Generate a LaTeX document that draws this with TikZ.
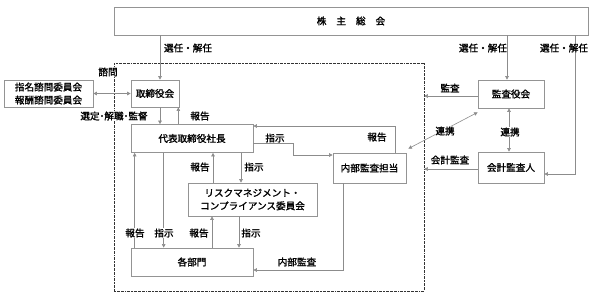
\documentclass[tikz,border=0pt]{standalone}
\usepackage{fontspec}
\setmainfont{Noto Sans CJK JP}[FakeBold=1.5]
\usetikzlibrary{arrows.meta,calc}
\begin{document}
\begin{tikzpicture}[x=1pt,y=-1pt,
  font=\fontsize{9.6}{11}\selectfont,
  box/.style={draw=black!42, line width=0.7pt, fill=white, inner sep=0pt, align=center},
  ln/.style={draw=black!45, line width=0.6pt},
  arr/.style={ln, -{Triangle[length=3.6pt,width=3.6pt]}, shorten >=0pt},
  darr/.style={ln, {Triangle[length=3.6pt,width=3.6pt]}-{Triangle[length=3.6pt,width=3.6pt]}},
  lab/.style={inner sep=0.5pt},
  wlab/.style={inner sep=0.5pt, fill=white},
  grpbox/.style={draw=black!80, line width=0.5pt, dash pattern=on 2pt off 0.8pt on 0.6pt off 0.8pt, inner sep=0pt}
]
\useasboundingbox (0,0) rectangle (595,295);
% group box
\node[grpbox, minimum width=310pt, minimum height=228pt] (grp) at (269,177) {};
% boxes
\node[box, minimum width=474pt, minimum height=28pt] (top) at (351,21) {株\hspace{10pt}主\hspace{10pt}総\hspace{10pt}会};
\node[box, minimum width=89pt, minimum height=27pt] (comm) at (48.5,93.5) {指名諮問委員会\\[2pt]報酬諮問委員会};
\node[box, minimum width=48pt, minimum height=27pt] (tori) at (155,93.5) {取締役会};
\node[box, minimum width=122pt, minimum height=28pt] (daihyo) at (192,138.5) {代表取締役社長};
\node[box, minimum width=73pt, minimum height=30pt] (naibu) at (369.5,168) {内部監査担当};
\node[box, minimum width=129pt, minimum height=33pt] (risk) at (252.5,199.5) {リスクマネジメント・\\[2pt]コンプライアンス委員会};
\node[box, minimum width=122pt, minimum height=28pt] (kaku) at (192,262) {各部門};
\node[box, minimum width=66pt, minimum height=28pt] (kansa) at (511,94) {監査役会};
\node[box, minimum width=66pt, minimum height=31pt] (kaikei) at (511,167.5) {会計監査人};
% top -> tori
\coordinate (t1) at ([xshift=5pt]tori.north);
\draw[arr] (t1 |- top.south) -- (t1);
\node[lab] (l1) at (188,48) {選任・解任};
% comm <-> tori
\draw[darr] (comm.east) -- (tori.west);
\node[wlab] (l2) at (108,72) {諮問};
% tori <-> daihyo
\coordinate (t2) at ([xshift=5pt]tori.south);
\draw[arr] (t2) -- (t2 |- daihyo.north);
\coordinate (t3) at ([xshift=-1pt]tori.south east);
\draw[arr] (t3 |- daihyo.north) -- (t3);
\node[wlab] (l3) at (114,116) {選定･解職･監督};
\node[lab] (l4) at (200,116) {報告};
% daihyo -> naibu
\coordinate (d1) at ([yshift=-4.5pt]daihyo.east);
\coordinate (n1) at ([yshift=13pt]naibu.west);
\draw[arr] (d1) -- ++(40,0) |- (n1);
\node[lab] (l5) at (275,138) {指示};
% naibu -> daihyo
\coordinate (n2) at ([xshift=25.5pt]naibu.north);
\coordinate (d2) at ([yshift=12.5pt]daihyo.east);
\draw[arr] (n2) |- (d2);
\node[lab] (l6) at (377,137) {報告};
% daihyo <-> risk
\coordinate (r1) at ([xshift=-39.5pt]risk.north);
\coordinate (r2) at ([xshift=-11.5pt]risk.north);
\draw[arr] (r1) -- (r1 |- daihyo.south);
\draw[arr] (r2 |- daihyo.south) -- (r2);
\node[lab] (l7) at (200,167) {報告};
\node[lab] (l8) at (254,167) {指示};
% daihyo <-> kaku
\coordinate (k1) at ([xshift=4pt]kaku.north west);
\coordinate (k2) at ([xshift=33pt]kaku.north west);
\draw[arr] (k1) -- (k1 |- daihyo.south);
\draw[arr] (k2 |- daihyo.south) -- (k2);
\node[wlab] (l9) at (135,233) {報告};
\node[wlab] (l10) at (164,233) {指示};
% risk <-> kaku
\coordinate (r3) at ([xshift=-40.5pt]risk.south);
\coordinate (r4) at ([xshift=-13.5pt]risk.south);
\draw[arr] (r3 |- kaku.north) -- (r3);
\draw[arr] (r4) -- (r4 |- kaku.north);
\node[lab] (l11) at (199,233) {報告};
\node[lab] (l12) at (251,233) {指示};
% naibu -> kaku
\coordinate (n3) at ([xshift=-26.5pt]naibu.south);
\coordinate (k3) at ([yshift=-8pt]kaku.east);
\draw[arr] (n3) |- (k3);
\node[lab] (l13) at (297,262) {内部監査};
% top -> kansa
\coordinate (s1) at ([xshift=-4pt]kansa.north);
\draw[arr] (s1 |- top.south) -- (s1);
\node[lab] (l14) at (483,48) {選任・解任};
% top -> kaikei
\coordinate (s2) at (575,0);
\coordinate (s3) at ([yshift=-6.5pt]kaikei.east);
\draw[arr] (s2 |- top.south) |- (s3);
\node[lab] (l15) at (564,48) {選任・解任};
% kansa -> group
\coordinate (s4) at ([yshift=-2pt]kansa.west);
\draw[arr] (s4) -- (s4 -| grp.east);
\node[lab] (l16) at (450,88) {監査};
% kaikei -> group
\coordinate (s5) at ([yshift=-1.5pt]kaikei.west);
\draw[arr] (s5) -- (s5 -| grp.east);
\node[lab] (l17) at (450,160) {会計監査};
% kansa <-> kaikei
\coordinate (s6) at ([xshift=-2pt]kansa.south);
\draw[darr] (s6) -- (s6 |- kaikei.north);
\node[wlab] (l18) at (510,132) {連携};
% kansa <-> naibu
\draw[darr] ([yshift=-4pt]kansa.south west) -- ([shift={(2pt,4pt)}]naibu.north east);
\node[wlab] (l19) at (445,131) {連携};
\end{tikzpicture}
\end{document}
